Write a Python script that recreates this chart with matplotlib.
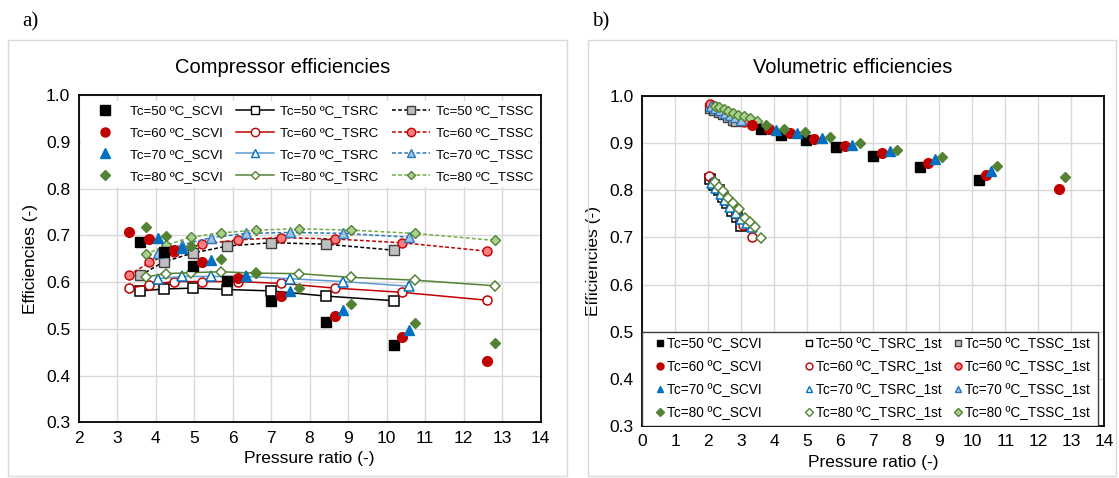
import matplotlib
matplotlib.use('Agg')
import matplotlib.pyplot as plt
from matplotlib.lines import Line2D
from matplotlib.patches import Rectangle
from matplotlib.legend import Legend
import numpy as np

plt.rcParams['font.family'] = ['Liberation Sans', 'DejaVu Sans']

temps = ['50', '60', '70', '80']

# pressure ratios per condensing temperature
pr = {
    '50': [3.60, 4.21, 4.97, 5.87, 7.00, 8.42, 10.20],
    '60': [3.31, 3.84, 4.47, 5.21, 6.13, 7.26, 8.66, 10.40, 12.62],
    '70': [4.06, 4.70, 5.45, 6.36, 7.50, 8.88, 10.58],
    '80': [3.75, 4.28, 4.92, 5.70, 6.60, 7.72, 9.07, 10.74, 12.81],
}

# a) compressor efficiencies
eff_scvi = {
    '50': [0.685, 0.664, 0.634, 0.602, 0.559, 0.514, 0.465],
    '60': [0.707, 0.693, 0.669, 0.642, 0.608, 0.570, 0.528, 0.482, 0.432],
    '70': [0.694, 0.673, 0.647, 0.613, 0.580, 0.540, 0.498],
    '80': [0.717, 0.698, 0.677, 0.650, 0.619, 0.587, 0.552, 0.512, 0.469],
}
eff_tsrc = {
    '50': [0.581, 0.585, 0.587, 0.584, 0.581, 0.570, 0.560],
    '60': [0.587, 0.594, 0.601, 0.601, 0.601, 0.597, 0.587, 0.578, 0.561],
    '70': [0.607, 0.612, 0.612, 0.612, 0.607, 0.601, 0.591],
    '80': [0.611, 0.618, 0.620, 0.622, 0.619, 0.618, 0.610, 0.604, 0.592],
}
eff_tssc = {
    '50': [0.614, 0.643, 0.662, 0.677, 0.684, 0.681, 0.668],
    '60': [0.614, 0.642, 0.664, 0.681, 0.690, 0.695, 0.692, 0.684, 0.666],
    '70': [0.662, 0.680, 0.695, 0.704, 0.706, 0.704, 0.696],
    '80': [0.659, 0.679, 0.696, 0.705, 0.711, 0.714, 0.711, 0.704, 0.689],
}

# b) volumetric efficiencies
vol_scvi = {
    '50': [0.930, 0.918, 0.907, 0.891, 0.872, 0.849, 0.821],
    '60': [0.939, 0.930, 0.921, 0.909, 0.895, 0.879, 0.858, 0.832, 0.803],
    '70': [0.928, 0.921, 0.910, 0.897, 0.884, 0.866, 0.841],
    '80': [0.938, 0.930, 0.923, 0.913, 0.900, 0.885, 0.870, 0.851, 0.828],
}
pr_1st_tsrc = {
    '50': [2.05, 2.18, 2.31, 2.45, 2.58, 2.72, 2.86, 2.98],
    '60': [2.03, 2.14, 2.27, 2.40, 2.54, 2.68, 2.84, 3.05, 3.31],
    '70': [2.10, 2.23, 2.37, 2.52, 2.67, 2.83, 3.00, 3.17, 3.32],
    '80': [2.20, 2.33, 2.45, 2.59, 2.75, 2.93, 3.11, 3.26, 3.42, 3.59],
}
vol_1st_tsrc = {
    '50': [0.823, 0.812, 0.800, 0.786, 0.772, 0.757, 0.743, 0.724],
    '60': [0.830, 0.818, 0.806, 0.793, 0.779, 0.765, 0.749, 0.727, 0.701],
    '70': [0.816, 0.805, 0.793, 0.779, 0.765, 0.751, 0.740, 0.731, 0.723],
    '80': [0.817, 0.808, 0.798, 0.784, 0.773, 0.760, 0.742, 0.732, 0.722, 0.699],
}
pr_1st_tssc = {
    '50': [2.05, 2.18, 2.31, 2.45, 2.60, 2.76, 2.85],
    '60': [2.05, 2.17, 2.30, 2.43, 2.57, 2.72, 2.88, 3.08],
    '70': [2.08, 2.21, 2.35, 2.50, 2.65, 2.81, 2.98],
    '80': [2.20, 2.33, 2.47, 2.60, 2.76, 2.91, 3.09, 3.26, 3.47],
}
vol_1st_tssc = {
    '50': [0.975, 0.970, 0.966, 0.961, 0.955, 0.950, 0.947],
    '60': [0.982, 0.978, 0.974, 0.970, 0.965, 0.960, 0.954, 0.945],
    '70': [0.978, 0.974, 0.970, 0.965, 0.960, 0.955, 0.950],
    '80': [0.979, 0.976, 0.973, 0.969, 0.965, 0.960, 0.958, 0.953, 0.948],
}

markers = {'50': 's', '60': 'o', '70': '^', '80': 'D'}
msize = {'50': 6.5, '60': 6.5, '70': 6.5, '80': 5}
dark = {'50': '#000000', '60': '#C00000', '70': '#0070C0', '80': '#548235'}
line_rc = {'50': '#000000', '60': '#C00000', '70': '#5B9BD5', '80': '#548235'}
fill_ss = {'50': '#BFBFBF', '60': '#FF7C80', '70': '#9DC3E6', '80': '#A9D18E'}
edge_ss = {'50': '#404040', '60': '#C00000', '70': '#2E75B6', '80': '#548235'}
line_ss = {'50': '#000000', '60': '#C00000', '70': '#2E75B6', '80': '#70AD47'}

fig = plt.figure(figsize=(11.19, 4.78), dpi=100)

# chart area borders
for x0, x1 in [(8, 567), (588, 1116)]:
    fig.patches.append(Rectangle((x0 / 1119, 1 - 476 / 478), (x1 - x0) / 1119, 436 / 478,
                                 transform=fig.transFigure, fill=False,
                                 edgecolor='#D9D9D9', lw=1))

ax1 = fig.add_axes([78.5 / 1119, 1 - 422.3 / 478, 462 / 1119, 327.3 / 478])
ax2 = fig.add_axes([642.3 / 1119, 1 - 426 / 478, 462 / 1119, 330 / 478])


def style_axes(ax, xlim):
    ax.set_xlim(*xlim)
    ax.set_ylim(0.3, 1.0)
    ax.set_xticks(np.arange(xlim[0], xlim[1] + 1, 1))
    ax.set_yticks(np.arange(0.3, 1.01, 0.1))
    ax.yaxis.set_major_formatter(matplotlib.ticker.FormatStrFormatter('%.1f'))
    ax.grid(True, color='#D9D9D9', lw=1)
    ax.set_axisbelow(True)
    ax.tick_params(length=0, labelsize=12.5, pad=6)
    for s in ax.spines.values():
        s.set_color('#000000')
        s.set_linewidth(1.3)
    ax.set_xlabel('Pressure ratio (-)', fontsize=12.5, labelpad=4)
    ax.set_ylabel('Efficiencies (-)', fontsize=12.5, labelpad=6)


style_axes(ax1, (2, 14))
style_axes(ax2, (0, 14))

# ---- panel a
h_scvi, h_rc, h_ss = [], [], []
for t in temps:
    ax1.plot(pr[t], eff_tssc[t], ls=(0, (2.5, 1.5)), lw=1.1, color=line_ss[t],
             marker=markers[t], ms=msize[t], mfc=fill_ss[t], mec=edge_ss[t], mew=1, zorder=3)
    ax1.plot(pr[t], eff_tsrc[t], ls='-', lw=1.1, color=line_rc[t],
             marker=markers[t], ms=msize[t], mfc='white', mec=dark[t], mew=1.1, zorder=3)
    ax1.plot(pr[t], eff_scvi[t], ls='none', marker=markers[t], ms=msize[t] + 0.5,
             color=dark[t], zorder=4)
    h_scvi.append(Line2D([], [], ls='none', marker=markers[t], ms=msize[t], color=dark[t],
                         label='Tc=%s ºC_SCVI' % t))
    h_rc.append(Line2D([], [], ls='-', lw=1.1, color=line_rc[t], marker=markers[t], ms=msize[t] - 0.5,
                       mfc='white', mec=dark[t], label='Tc=%s ºC_TSRC' % t))
    h_ss.append(Line2D([], [], ls=(0, (2.5, 1.5)), lw=1.1, color=line_ss[t], marker=markers[t],
                       ms=msize[t] - 0.5, mfc=fill_ss[t], mec=edge_ss[t], label='Tc=%s ºC_TSSC' % t))

leg1 = ax1.legend(handles=h_scvi + h_rc + h_ss, ncol=3, loc='upper left',
                  bbox_to_anchor=(0.0, 0.99, 1.0, 0.0), mode='expand', borderaxespad=0.2,
                  fontsize=9.6, handlelength=2.9, handletextpad=0.45, columnspacing=1.0,
                  labelspacing=0.72, borderpad=0.3, frameon=True, fancybox=False, framealpha=1)
leg1.get_frame().set_edgecolor('none')
leg1.get_frame().set_facecolor('white')

# ---- panel b
hb = {'scvi': [], 'rc': [], 'ss': []}
for t in temps:
    ax2.plot(pr_1st_tssc[t], vol_1st_tssc[t], ls='none', marker=markers[t], ms=msize[t],
             mfc=fill_ss[t], mec=edge_ss[t], mew=1, zorder=3)
    ax2.plot(pr_1st_tsrc[t], vol_1st_tsrc[t], ls='none', marker=markers[t], ms=msize[t],
             mfc='white', mec=dark[t], mew=1.1, zorder=3)
    ax2.plot(pr[t], vol_scvi[t], ls='none', marker=markers[t], ms=msize[t] + 0.5,
             color=dark[t], zorder=4)
    lm = 5 if t != '80' else 3.6
    hb['scvi'].append(Line2D([], [], ls='none', marker=markers[t], ms=lm, color=dark[t],
                             label='Tc=%s ºC_SCVI' % t))
    hb['rc'].append(Line2D([], [], ls='none', marker=markers[t], ms=lm, mfc='white', mec=dark[t],
                           label='Tc=%s ºC_TSRC_1st' % t))
    hb['ss'].append(Line2D([], [], ls='none', marker=markers[t], ms=lm, mfc=fill_ss[t], mec=edge_ss[t],
                           label='Tc=%s ºC_TSSC_1st' % t))

# legend box of panel b, columns placed like the original
ax2.add_patch(Rectangle((0, 0), (1098 - 642.3) / 462, (426 - 332) / 330, transform=ax2.transAxes,
                        facecolor='white', edgecolor='#404040', lw=1.0, zorder=5))
for key, xc in [('scvi', 656), ('rc', 805), ('ss', 954)]:
    handles = hb[key]
    lg = Legend(ax2, handles, [h.get_label() for h in handles], loc='upper left',
                bbox_to_anchor=((xc - 642.3) / 462, (426 - 337) / 330),
                borderaxespad=0.0, borderpad=0.0, fontsize=9.8, handlelength=0.6,
                handletextpad=0.2, labelspacing=0.66, frameon=False)
    lg.set_zorder(6)
    ax2.add_artist(lg)

fig.text(283 / 1119, 1 - 67 / 478, 'Compressor efficiencies', ha='center', va='center', fontsize=14.5)
fig.text(853 / 1119, 1 - 67 / 478, 'Volumetric efficiencies', ha='center', va='center', fontsize=14.5)
fig.text(22 / 1119, 1 - 22 / 478, 'a)', ha='left', va='center', fontsize=15,
         family=['Liberation Serif', 'DejaVu Serif'])
fig.text(592 / 1119, 1 - 22 / 478, 'b)', ha='left', va='center', fontsize=15,
         family=['Liberation Serif', 'DejaVu Serif'])

fig.savefig('out.png', dpi=100)
